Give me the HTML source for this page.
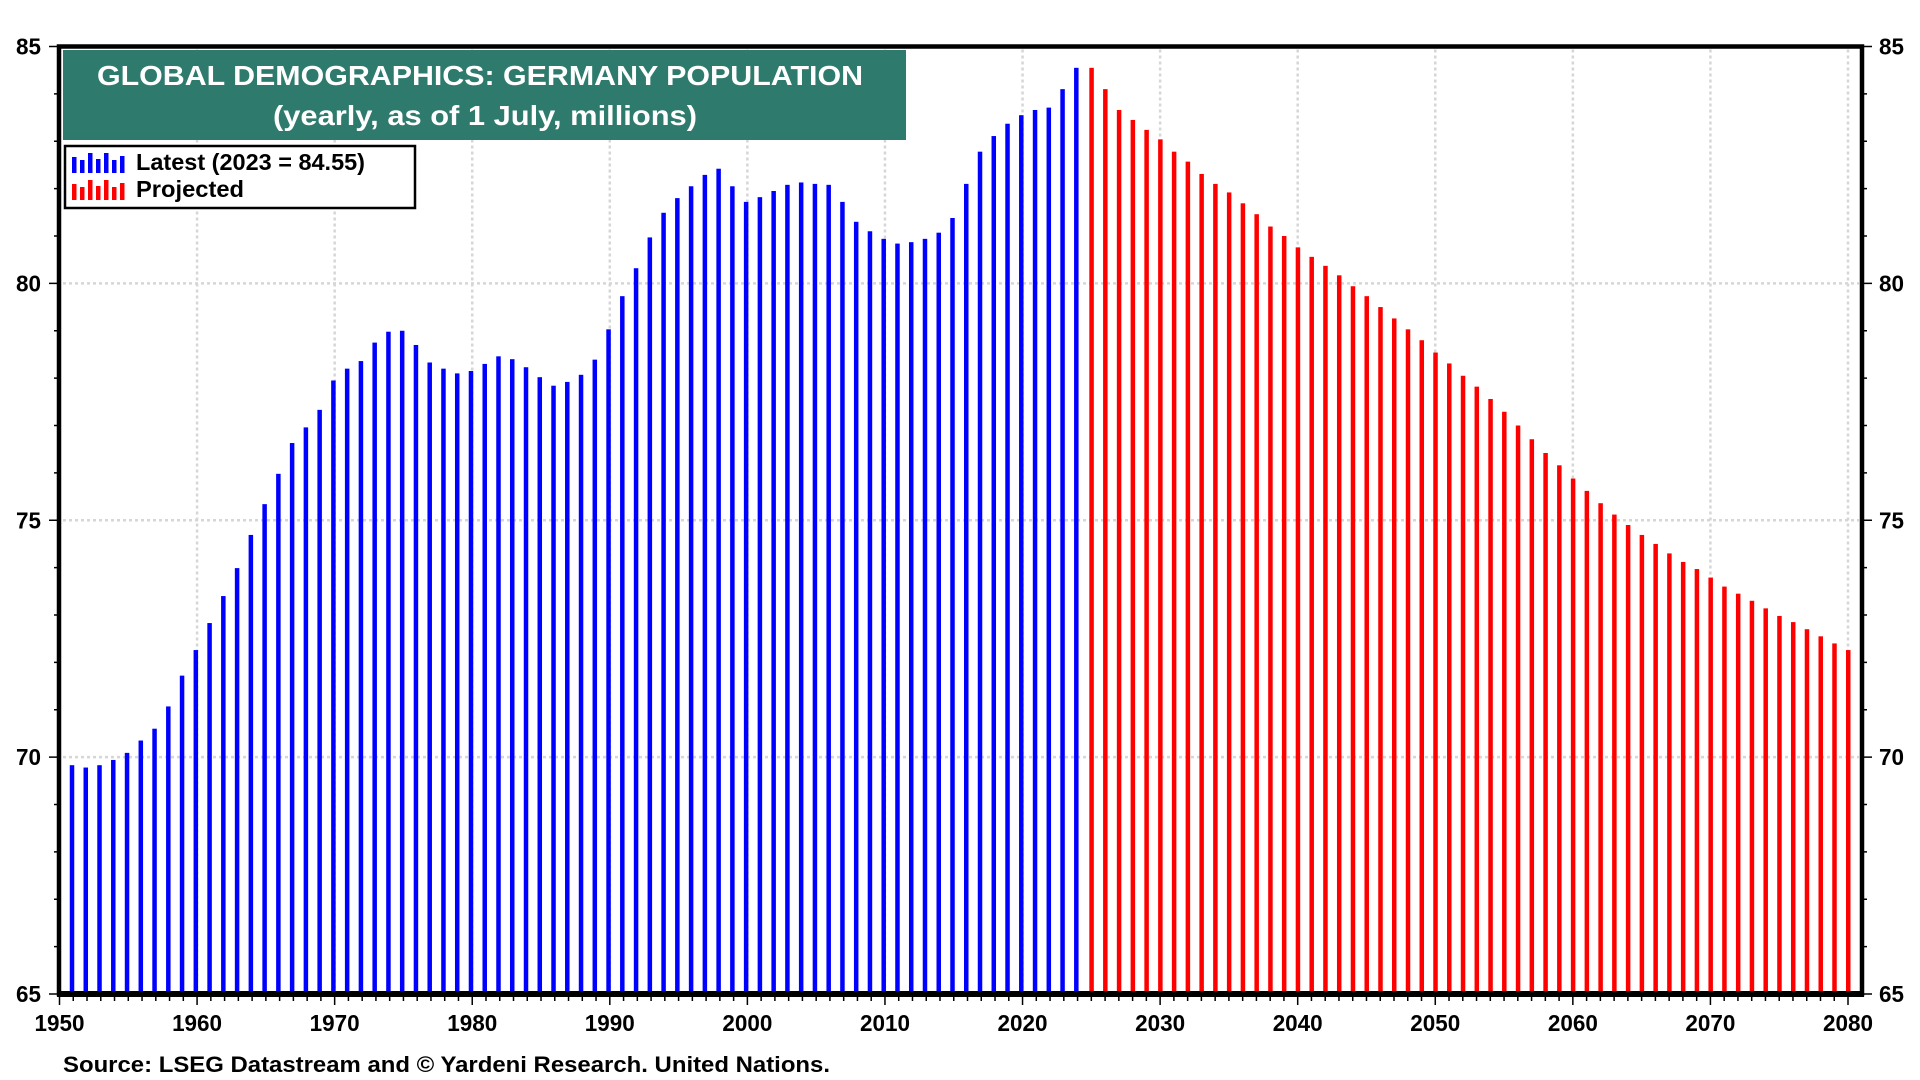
<!DOCTYPE html>
<html><head><meta charset="utf-8"><style>
html,body{margin:0;padding:0;background:#fff;}
svg{display:block;font-family:"Liberation Sans",Arial,sans-serif;font-weight:bold;}
</style></head><body>
<svg id="chart" width="1920" height="1080" viewBox="0 0 1920 1080" xmlns="http://www.w3.org/2000/svg">
<g id="grid"></g>
<g id="bars"></g>
<g id="axes"></g>
<rect x="63" y="50" width="843" height="90" fill="#2e7b6e"/>
<text x="480" y="85" font-size="28" fill="#fff" text-anchor="middle" textLength="766" lengthAdjust="spacingAndGlyphs">GLOBAL DEMOGRAPHICS: GERMANY POPULATION</text>
<text x="485" y="125" font-size="28" fill="#fff" text-anchor="middle" textLength="424" lengthAdjust="spacingAndGlyphs">(yearly, as of 1 July, millions)</text>
<g>
<rect x="65" y="146" width="350" height="62" fill="#fff" stroke="#000" stroke-width="2.5"/>
<g id="legicon1"></g>
<g id="legicon2"></g>
<text x="136" y="170" font-size="23" textLength="229" lengthAdjust="spacingAndGlyphs">Latest (2023 = 84.55)</text>
<text x="136" y="197" font-size="23" textLength="108" lengthAdjust="spacingAndGlyphs">Projected</text>
</g>
<text x="63" y="1072" font-size="22" textLength="767" lengthAdjust="spacingAndGlyphs">Source: LSEG Datastream and © Yardeni Research. United Nations.</text>
</svg>
<script>
const latestYears = [];
for (let y = 1951; y <= 2024; y++) latestYears.push(y);
const latestValues = [69.83,69.78,69.83,69.94,70.09,70.35,70.6,71.07,71.72,72.26,72.83,73.4,73.99,74.69,75.34,75.98,76.63,76.96,77.33,77.95,78.2,78.36,78.75,78.98,79.0,78.7,78.33,78.2,78.1,78.15,78.3,78.46,78.4,78.23,78.02,77.84,77.92,78.07,78.39,79.03,79.73,80.32,80.97,81.49,81.8,82.05,82.29,82.42,82.05,81.72,81.82,81.95,82.08,82.13,82.1,82.08,81.72,81.3,81.1,80.94,80.84,80.87,80.94,81.07,81.38,82.1,82.78,83.11,83.37,83.55,83.66,83.71,84.1,84.55];
const projYears = [];
for (let y = 2025; y <= 2080; y++) projYears.push(y);
const projValues = [84.55,84.1,83.66,83.45,83.24,83.04,82.78,82.57,82.31,82.1,81.92,81.69,81.46,81.2,81.0,80.76,80.56,80.37,80.17,79.94,79.73,79.5,79.26,79.03,78.8,78.54,78.31,78.05,77.82,77.56,77.29,77.0,76.71,76.42,76.16,75.88,75.62,75.36,75.12,74.9,74.69,74.5,74.3,74.12,73.97,73.79,73.6,73.45,73.3,73.14,72.98,72.85,72.7,72.55,72.4,72.26];
const yTicks = [65,70,75,80,85];
const xTicks = [1950,1960,1970,1980,1990,2000,2010,2020,2030,2040,2050,2060,2070,2080];

const NS = "http://www.w3.org/2000/svg";
const L = 59, R = 1862, T = 46.5, B = 994;
const x = yr => 59.5 + (yr - 1950) * (1848 - 59.5) / 130;
const y = v => B - (v - 65) * (B - T) / 20;
function mk(tag, attrs, parent) {
  const e = document.createElementNS(NS, tag);
  for (const k in attrs) e.setAttribute(k, attrs[k]);
  parent.appendChild(e);
  return e;
}
const grid = document.getElementById('grid');
const bars = document.getElementById('bars');
const axes = document.getElementById('axes');

yTicks.forEach(v => {
  if (v === 65 || v === 85) return;
  const g = mk('line', {x1: L + 4, x2: R - 3, y1: y(v), y2: y(v), stroke: '#d6d6d6', 'stroke-width': 2.5, 'stroke-dasharray': '3 3'}, grid);
  
  
});
xTicks.forEach(t => {
  if (t === 1950) return;
  const g = mk('line', {x1: x(t), x2: x(t), y1: T + 3, y2: B - 3, stroke: '#d6d6d6', 'stroke-width': 2.5, 'stroke-dasharray': '3 3'}, grid);
  
  
});

latestYears.forEach((yr, i) => {
  const r = mk('rect', {x: x(yr) - 3.5, y: y(latestValues[i]), width: 4.5, height: B - y(latestValues[i]), fill: '#0000ff'}, bars);
  
  
});
projYears.forEach((yr, i) => {
  const r = mk('rect', {x: x(yr) - 2, y: y(projValues[i]), width: 4.5, height: B - y(projValues[i]), fill: '#ff0000'}, bars);
  
  
});

const frame = mk('path', {d: `M${L} ${B} L${L} ${T} L${R} ${T} L${R} ${B} Z`, fill: 'none', stroke: '#000', 'stroke-width': 4.5}, axes);


mk('line', {x1: L - 2, x2: R + 2, y1: B, y2: B, stroke: '#000', 'stroke-width': 6}, axes);

for (let v = 65; v <= 85; v++) {
  const major = v % 5 === 0;
  mk('line', {x1: L - (major ? 10 : 5), x2: L, y1: y(v), y2: y(v), stroke: '#000', 'stroke-width': 1.5}, axes);
  mk('line', {x1: R, x2: R + (major ? 10 : 5), y1: y(v), y2: y(v), stroke: '#000', 'stroke-width': 1.5}, axes);
}
yTicks.forEach(v => {
  const t1 = mk('text', {x: 41, y: y(v) + 8, 'font-size': 23, 'text-anchor': 'end', textLength: 25, lengthAdjust: 'spacingAndGlyphs'}, axes);
  t1.textContent = v;
  
  
  const t2 = mk('text', {x: 1879, y: y(v) + 8, 'font-size': 23, textLength: 25, lengthAdjust: 'spacingAndGlyphs'}, axes);
  t2.textContent = v;
  
  
});
for (let yr = 1950; yr <= 2080; yr++) {
  const major = yr % 10 === 0;
  mk('line', {x1: x(yr), x2: x(yr), y1: B, y2: B + (major ? 11 : 7), stroke: '#000', 'stroke-width': 1.5}, axes);
}
xTicks.forEach(t => {
  const tx = mk('text', {x: x(t), y: 1031, 'font-size': 23, 'text-anchor': 'middle', textLength: 50, lengthAdjust: 'spacingAndGlyphs'}, axes);
  tx.textContent = t;
  
  
});

const iconH = [16, 13, 20, 14, 20, 13, 17];
function icon(id, y0, color) {
  const g = document.getElementById(id);
  iconH.forEach((h, i) => {
    mk('rect', {x: 72 + i * 8, y: y0 + (21 - h), width: 4.5, height: h, fill: color}, g);
  });
}
icon('legicon1', 152, '#0000ff');
icon('legicon2', 179, '#ff0000');
</script>
</body></html>
